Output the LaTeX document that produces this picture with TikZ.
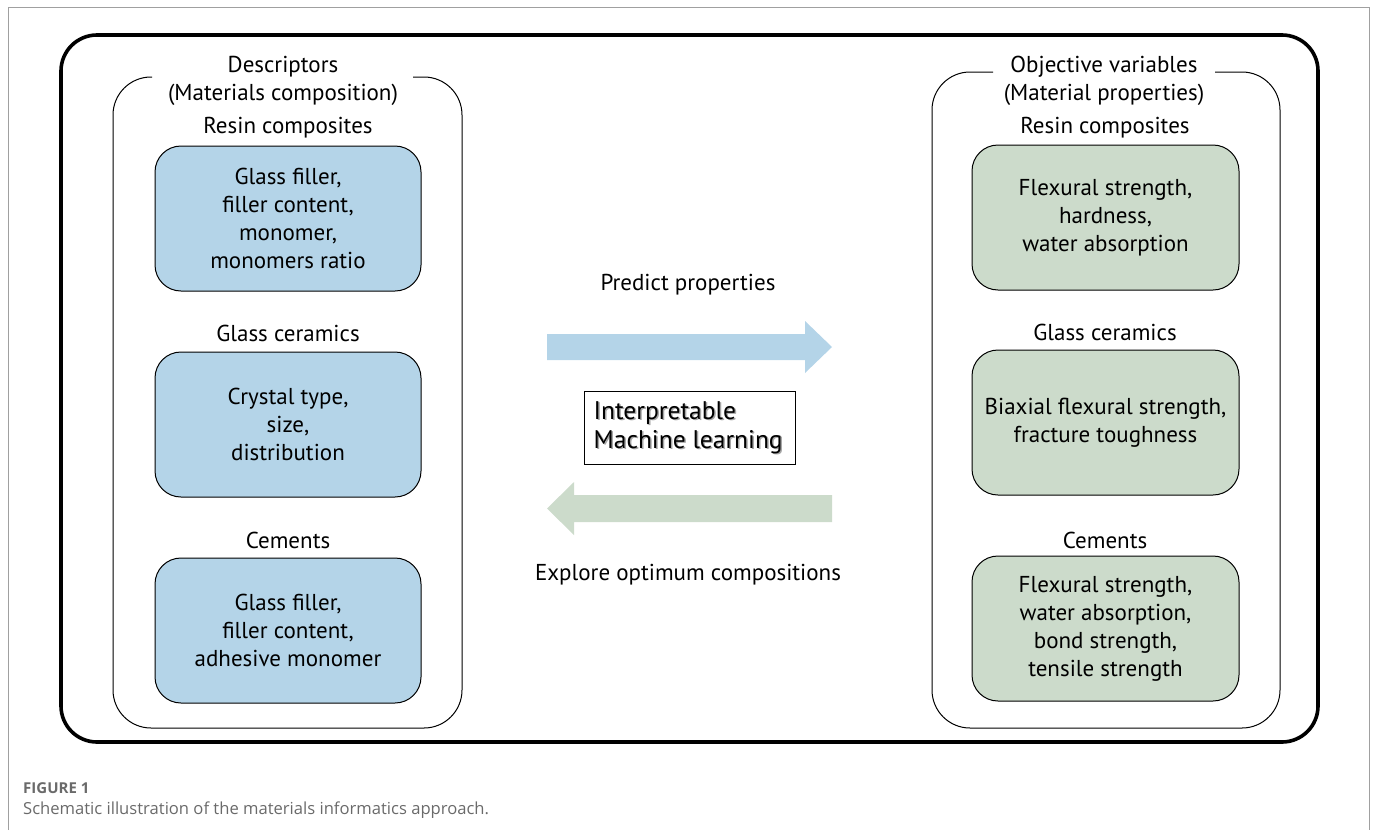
\documentclass[tikz,border=0pt]{standalone}
\usepackage{fontspec}
\setmainfont{PT Sans}
\newfontfamily\capfont{Open Sans}
\usetikzlibrary{positioning}
\definecolor{descblue}{HTML}{B4D4E8}
\definecolor{propgreen}{HTML}{CCDBCB}
\definecolor{framegray}{HTML}{A0A0A0}
\definecolor{captiongray}{HTML}{6A6A6A}
\tikzset{
  txt/.style={font=\fontsize{23}{28}\selectfont, align=center, inner sep=0pt},
  lbl/.style={txt, yshift=-2.5pt},
  descbox/.style={draw=black, line width=1pt, fill=descblue, rounded corners=26pt,
    minimum width=266pt, minimum height=145pt, txt},
  propbox/.style={draw=black, line width=1pt, fill=propgreen, rounded corners=26pt,
    minimum width=267pt, minimum height=145pt, txt},
  panel/.style={draw=black, line width=1pt, rounded corners=38pt},
}
\begin{document}
\begin{tikzpicture}[x=1pt, y=-1pt]
\useasboundingbox (0,0) rectangle (1375,830);

% page frame around the figure
\draw[framegray, line width=1pt] (8,830) -- (8,7.5) -- (1369,7.5) -- (1369,830);

% outer container
\draw[line width=3.6pt, rounded corners=36pt] (61,35) rectangle (1318,742);

% left panel (descriptors), open at the top for its title
\draw[panel] (413,77) -- (462,77) -- (462,728) -- (113,728) -- (113,77) -- (152,77);
\node[lbl] (dtitle) at (283,78) {Descriptors\\(Materials composition)};

% right panel (objective variables), open at the top for its title
\draw[panel] (1215,72) -- (1280,72) -- (1280,728) -- (932,728) -- (932,72) -- (993,72);
\node[lbl] (ptitle) at (1104,78) {Objective variables\\(Material properties)};

% descriptor groups
\node[lbl] (dl1) at (288,125) {Resin composites};
\node[descbox] (d1) at (288,218.5) {Glass filler,\\filler content,\\monomer,\\monomers ratio};
\node[lbl] (dl2) at (288,331) {Glass ceramics};
\node[descbox] (d2) at (288,424.5) {Crystal type,\\size,\\distribution};
\node[lbl] (dl3) at (288,538) {Cements};
\node[descbox] (d3) at (288,630.5) {Glass filler,\\filler content,\\adhesive monomer};

% property groups
\node[lbl] (pl1) at (1105,125) {Resin composites};
\node[propbox] (p1) at (1105.5,217.5) {Flexural strength,\\hardness,\\water absorption};
\node[lbl] (pl2) at (1105,330) {Glass ceramics};
\node[propbox] (p2) at (1105.5,422.5) {Biaxial flexural strength,\\fracture toughness};
\node[lbl] (pl3) at (1105,538) {Cements};
\node[propbox] (p3) at (1105.5,628.5) {Flexural strength,\\water absorption,\\bond strength,\\tensile strength};

% forward arrow: descriptors to properties
\node[lbl] (fwd) at (688,282) {Predict properties};
\fill[descblue] (547,334) -- (805,334) -- (805,321) -- (832,347) -- (805,373) -- (805,360) -- (547,360) -- cycle;

% backward arrow: properties to compositions
\fill[propgreen] (832,495) -- (574,495) -- (574,482) -- (547,508.5) -- (574,535) -- (574,522) -- (832,522) -- cycle;
\node[lbl] (bwd) at (688,572) {Explore optimum compositions};

% model box with shadowed text
\node[draw=black, line width=1pt, minimum width=211pt, minimum height=73pt] (ml) at (689.5,427.5) {};
\node[anchor=west, font=\fontsize{25.5}{29}\selectfont, align=left, inner sep=0pt, text=black!35]
  (mlshadow) at ([xshift=11.5pt, yshift=-1.5pt]ml.west) {Interpretable\\Machine learning};
\node[anchor=west, font=\fontsize{25.5}{29}\selectfont, align=left, inner sep=0pt]
  (mltext) at ([xshift=10pt]ml.west) {Interpretable\\Machine learning};

% caption
\node[anchor=west, inner sep=0pt, text=captiongray, font=\capfont\fontsize{15}{18}\selectfont\bfseries] (figno) at (23,788) {FIGURE 1};
\node[anchor=west, inner sep=0pt, text=captiongray, font=\capfont\fontsize{16.6}{20}\selectfont] (cap) at (23,810) {Schematic illustration of the materials informatics approach.};
\end{tikzpicture}
\end{document}
